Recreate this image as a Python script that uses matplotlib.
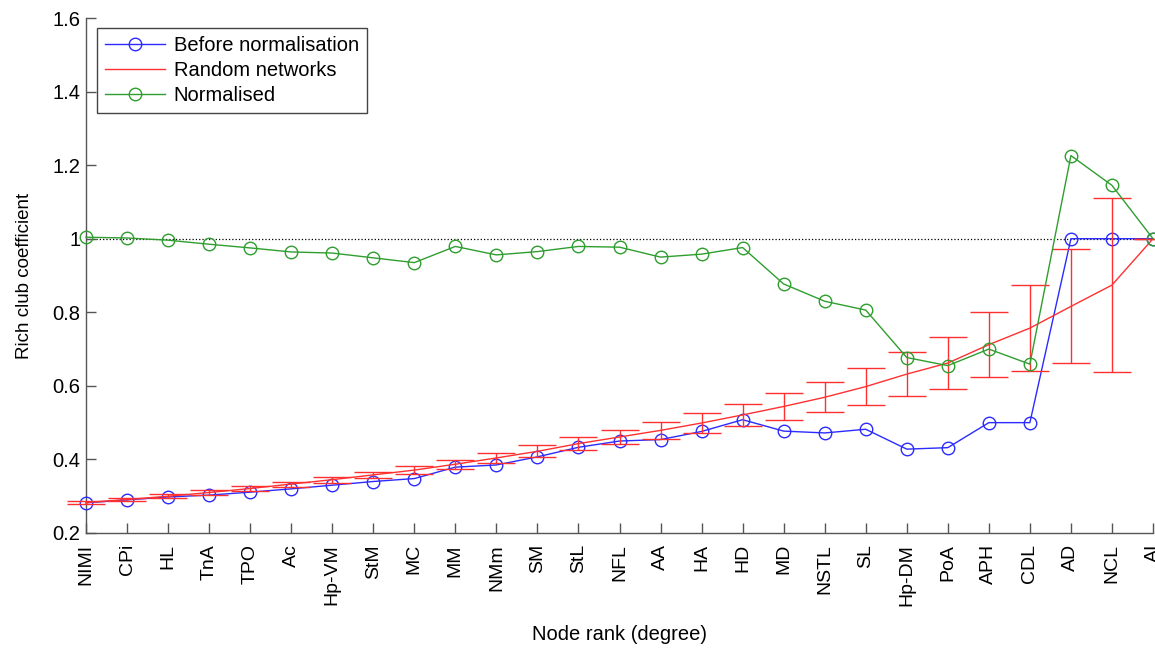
import matplotlib
matplotlib.use('Agg')
import matplotlib.pyplot as plt
import numpy as np

plt.rcParams['font.family'] = ['Liberation Sans', 'DejaVu Sans']

# node labels, ordered by rank (degree)
nodes = ['NIMI', 'CPi', 'HL', 'TnA', 'TPO', 'Ac', 'Hp-VM', 'StM', 'MC', 'MM',
         'NMm', 'SM', 'StL', 'NFL', 'AA', 'HA', 'HD', 'MD', 'NSTL', 'SL',
         'Hp-DM', 'PoA', 'APH', 'CDL', 'AD', 'NCL', 'AI']

before_norm = [0.282, 0.290, 0.298, 0.303, 0.311, 0.320, 0.330, 0.340, 0.348, 0.379,
               0.385, 0.407, 0.433, 0.450, 0.454, 0.476, 0.508, 0.477, 0.472, 0.482,
               0.428, 0.432, 0.500, 0.500, 1.000, 1.000, 1.000]

random_mean = [0.283, 0.291, 0.300, 0.310, 0.321, 0.333, 0.345, 0.358, 0.371, 0.387,
               0.404, 0.422, 0.443, 0.461, 0.479, 0.499, 0.521, 0.544, 0.569, 0.598,
               0.632, 0.662, 0.712, 0.757, 0.816, 0.874, 1.000]

random_err = [0.003, 0.005, 0.005, 0.006, 0.006, 0.007, 0.008, 0.009, 0.011, 0.012,
              0.013, 0.016, 0.017, 0.020, 0.024, 0.026, 0.030, 0.037, 0.041, 0.050,
              0.060, 0.070, 0.089, 0.117, 0.155, 0.237, 0.0]

normalised = [1.004, 1.002, 0.996, 0.985, 0.975, 0.964, 0.961, 0.948, 0.935, 0.979,
              0.956, 0.965, 0.979, 0.977, 0.950, 0.958, 0.976, 0.877, 0.830, 0.806,
              0.677, 0.655, 0.700, 0.659, 1.226, 1.145, 1.000]

x = np.arange(len(nodes))

fig = plt.figure(figsize=(11.55, 6.53), dpi=100)
ax = fig.add_axes([86 / 1155, 120 / 653, 1067 / 1155, 515 / 653])

BLUE = '#2b2bff'
RED = '#ff3030'
GREEN = '#2f9e2f'

ax.axhline(1.0, color='black', linestyle=':', linewidth=0.9, zorder=1)

ax.plot(x, before_norm, '-o', color=BLUE, markerfacecolor='none', markersize=9,
        markeredgewidth=1, linewidth=1, label='Before normalisation', clip_on=False, zorder=3)
ax.errorbar(x, random_mean, yerr=random_err, fmt='none', ecolor=RED, elinewidth=1,
            capsize=13.5, capthick=1, zorder=4, clip_on=False)
ax.plot(x, random_mean, '-', color=RED, linewidth=1, label='Random networks', zorder=4)
ax.plot(x, normalised, '-o', color=GREEN, markerfacecolor='none', markersize=9,
        markeredgewidth=1, linewidth=1, label='Normalised', clip_on=False, zorder=5)

ax.set_xlim(0, 26)
ax.set_ylim(0.2, 1.6)
ax.set_xticks(x)
ax.set_xticklabels(nodes, rotation=90, fontsize=14)
yt = [0.2, 0.4, 0.6, 0.8, 1.0, 1.2, 1.4, 1.6]
ax.set_yticks(yt)
ax.set_yticklabels(['0.2', '0.4', '0.6', '0.8', '1', '1.2', '1.4', '1.6'], fontsize=14.5)
ax.tick_params(direction='in', length=7, width=1, color='#555555')
ax.tick_params(axis='x', pad=8)
ax.tick_params(axis='y', pad=4)

for s in ['top', 'right']:
    ax.spines[s].set_visible(False)
for s in ['left', 'bottom']:
    ax.spines[s].set_color('#555555')
    ax.spines[s].set_linewidth(1)

ax.set_xlabel('Node rank (degree)', fontsize=14.5, labelpad=14)
ax.set_ylabel('Rich club coefficient', fontsize=13.5, labelpad=14)

leg = ax.legend(loc='upper left', bbox_to_anchor=(0.0103, 0.981), borderaxespad=0,
                fontsize=14.5, handlelength=3.0, handletextpad=0.4, fancybox=False,
                framealpha=1, edgecolor='#444444', labelspacing=0.3, borderpad=0.4)
leg.get_frame().set_linewidth(1)

fig.savefig('out.png', dpi=100)
